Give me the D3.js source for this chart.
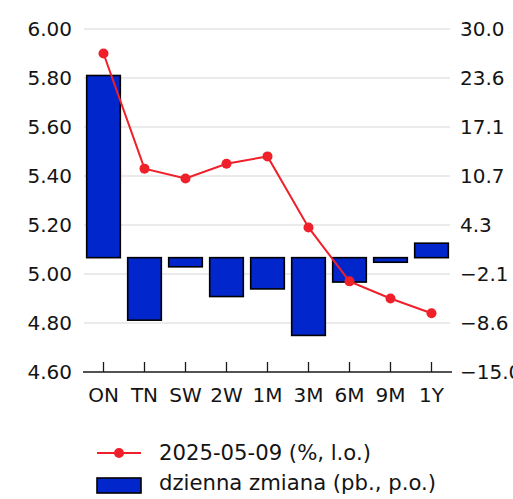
<!DOCTYPE html>
<html lang="en">
	<head>
		<meta charset="utf-8">
		<title>Stawki ON-1Y</title>
		<script src="https://d3js.org/d3.v7.min.js"></script>
		<style type="text/css">
			body { margin: 0; background: #fff; }
			text {
				font-family: "DejaVu Sans", sans-serif;
				font-size: 20px;
				fill: #141414;
			}
		</style>
	</head>
	<body>
		<script type="text/javascript">
			var w = 513;
			var h = 499;

			// Data
			var categories = ["ON", "TN", "SW", "2W", "1M", "3M", "6M", "9M", "1Y"];
			var rates = [5.90, 5.43, 5.39, 5.45, 5.48, 5.19, 4.97, 4.90, 4.84];
			var changes = [23.9, -8.2, -1.2, -5.1, -4.1, -10.2, -3.2, -0.6, 1.9];
			var leftTicks = [4.6, 4.8, 5.0, 5.2, 5.4, 5.6, 5.8, 6.0];
			var rightTicks = [-15.0, -8.6, -2.1, 4.3, 10.7, 17.1, 23.6, 30.0];
			var legendLabels = ["2025-05-09 (%, l.o.)", "dzienna zmiana (pb., p.o.)"];

			var plot = {left: 83, right: 452, top: 29, bottom: 372};

			var xScale = d3.scaleBand()
				.domain(categories)
				.range([plot.left, plot.right])
				.paddingInner(0.18)
				.paddingOuter(0.09);

			var yLeft = d3.scaleLinear()
				.domain([4.6, 6.0])
				.range([plot.bottom, plot.top]);

			var yRight = d3.scaleLinear()
				.domain([-15, 30])
				.range([plot.bottom, plot.top]);

			var svg = d3.select("body")
				.append("svg")
				.attr("width", w)
				.attr("height", h);

			// Gridlines
			svg.append("g")
				.selectAll("line")
				.data(leftTicks.slice(1))
				.enter()
				.append("line")
				.attr("x1", plot.left + 1)
				.attr("x2", plot.right - 2)
				.attr("y1", function(d) { return yLeft(d); })
				.attr("y2", function(d) { return yLeft(d); })
				.attr("stroke", "#e5e5e5")
				.attr("stroke-width", 1.5);

			// Left axis labels
			var leftAxis = d3.axisLeft(yLeft)
				.tickValues(leftTicks)
				.tickFormat(d3.format(".2f"))
				.tickSize(0)
				.tickPadding(11);
			var gl = svg.append("g")
				.attr("transform", "translate(" + plot.left + ",0)")
				.call(leftAxis);
			gl.select(".domain").remove();
			gl.selectAll("text").style("font-size", "20px").style("font-family", "DejaVu Sans");

			// Right axis labels
			var rightAxis = d3.axisRight(yRight)
				.tickValues(rightTicks)
				.tickFormat(d3.format(".1f"))
				.tickSize(0)
				.tickPadding(8);
			var gr = svg.append("g")
				.attr("transform", "translate(" + plot.right + ",0)")
				.call(rightAxis);
			gr.select(".domain").remove();
			gr.selectAll("text").style("font-size", "20px").style("font-family", "DejaVu Sans");

			// Bars
			svg.append("g")
				.selectAll("rect")
				.data(changes)
				.enter()
				.append("rect")
				.attr("x", function(d, i) { return xScale(categories[i]); })
				.attr("y", function(d) { return yRight(Math.max(0, d)); })
				.attr("width", xScale.bandwidth())
				.attr("height", function(d) { return Math.abs(yRight(d) - yRight(0)); })
				.attr("fill", "#0026cc")
				.attr("stroke", "#000")
				.attr("stroke-width", 1.6);

			// Line
			var xc = function(i) { return xScale(categories[i]) + xScale.bandwidth() / 2; };
			var line = d3.line()
				.x(function(d, i) { return xc(i); })
				.y(function(d) { return yLeft(d); });

			svg.append("path")
				.datum(rates)
				.attr("d", line)
				.attr("fill", "none")
				.attr("stroke", "#f0202a")
				.attr("stroke-width", 2);

			svg.append("g")
				.selectAll("circle")
				.data(rates)
				.enter()
				.append("circle")
				.attr("cx", function(d, i) { return xc(i); })
				.attr("cy", function(d) { return yLeft(d); })
				.attr("r", 5)
				.attr("fill", "#f0202a");

			// Bottom axis
			var xAxis = d3.axisBottom(xScale)
				.tickSize(-10)
				.tickPadding(16);
			var gx = svg.append("g")
				.attr("transform", "translate(0," + plot.bottom + ")")
				.call(xAxis);
			gx.select(".domain")
				.attr("d", "M" + plot.left + ",0H" + plot.right)
				.attr("stroke", "#1a1a1a")
				.attr("stroke-width", 1.6);
			gx.selectAll(".tick line").attr("stroke", "#1a1a1a").attr("stroke-width", 1.3);
			gx.selectAll("text").style("font-size", "20px").style("font-family", "DejaVu Sans");

			// Legend
			var legend = svg.append("g")
				.attr("transform", "translate(97,453)");

			legend.append("line")
				.attr("x1", 0).attr("x2", 44)
				.attr("y1", 0).attr("y2", 0)
				.attr("stroke", "#f0202a")
				.attr("stroke-width", 2);
			legend.append("circle")
				.attr("cx", 22).attr("cy", 0).attr("r", 5)
				.attr("fill", "#f0202a");
			legend.append("rect")
				.attr("x", 0).attr("y", 25)
				.attr("width", 44).attr("height", 15)
				.attr("fill", "#0026cc")
				.attr("stroke", "#000")
				.attr("stroke-width", 1.6);

			legend.selectAll("text.leg")
				.data(legendLabels)
				.enter()
				.append("text")
				.attr("class", "leg")
				.attr("x", 62)
				.attr("y", function(d, i) { return i * 30; })
				.attr("dy", "0.35em")
				.style("font-size", "21.2px")
				.text(function(d) { return d; });
		</script>
	</body>
</html>
